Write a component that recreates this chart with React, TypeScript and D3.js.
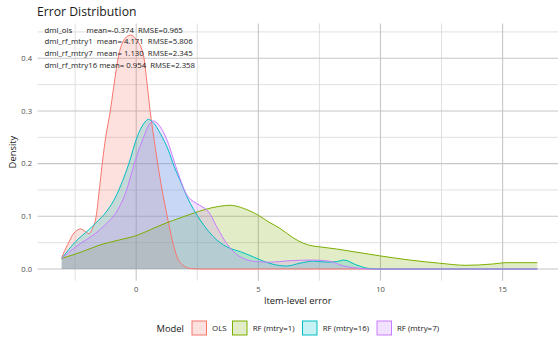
import React, { useEffect } from "react";
import * as d3 from "d3";

// Kernel density estimates of item-level error, sampled as [error, density]
const olsDensity: [number, number][] = [
  [-3.05, 0.022], [-2.8, 0.047], [-2.55, 0.068], [-2.27, 0.076], [-2.08, 0.071],
  [-1.93, 0.067], [-1.8, 0.076], [-1.64, 0.1], [-1.51, 0.15], [-1.39, 0.2],
  [-1.25, 0.25], [-1.06, 0.3], [-0.92, 0.346], [-0.7, 0.409], [-0.45, 0.438],
  [-0.23, 0.444], [0.0, 0.436], [0.3, 0.405], [0.45, 0.35], [0.57, 0.3],
  [0.72, 0.25], [0.88, 0.2], [1.06, 0.15], [1.27, 0.1], [1.5, 0.05],
  [1.67, 0.023], [1.95, 0.006], [2.2, 0.001], [2.6, 0], [16.42, 0],
];

const rfMtry1Density: [number, number][] = [
  [-3.05, 0.02], [-2.2, 0.033], [-1.46, 0.046], [-0.7, 0.055], [0.04, 0.064],
  [0.6, 0.075], [1.26, 0.088], [1.8, 0.097], [2.22, 0.104], [2.9, 0.114],
  [3.4, 0.119], [3.85, 0.121], [4.4, 0.115], [5.0, 0.102], [5.4, 0.09],
  [5.89, 0.077], [6.4, 0.06], [6.84, 0.049], [7.2, 0.044], [7.52, 0.042],
  [8.2, 0.038], [8.88, 0.033], [9.97, 0.025], [11.2, 0.017], [12.42, 0.011],
  [13.5, 0.007], [14.6, 0.0095], [15.14, 0.012], [16.42, 0.012],
];

const rfMtry16Density: [number, number][] = [
  [-3.05, 0.02], [-2.48, 0.052], [-1.93, 0.075], [-1.66, 0.087], [-1.2, 0.11],
  [-0.84, 0.137], [-0.55, 0.168], [-0.3, 0.2], [0.04, 0.251], [0.31, 0.276],
  [0.5, 0.284], [0.7, 0.278], [0.99, 0.257], [1.33, 0.224], [1.55, 0.195],
  [1.8, 0.168], [2.08, 0.137], [2.62, 0.093], [3.3, 0.055], [3.85, 0.039],
  [4.26, 0.033], [4.8, 0.023], [5.2, 0.015], [5.6, 0.009], [6.16, 0.0057],
  [6.7, 0.011], [7.25, 0.015], [7.8, 0.013], [8.2, 0.014], [8.5, 0.017],
  [9.0, 0.008], [9.4, 0.002], [9.8, 0], [16.42, 0],
];

const rfMtry7Density: [number, number][] = [
  [-3.05, 0.02], [-2.48, 0.042], [-1.66, 0.068], [-1.2, 0.087], [-0.84, 0.106],
  [-0.44, 0.144], [-0.03, 0.207], [0.31, 0.251], [0.55, 0.276], [0.7, 0.281],
  [0.9, 0.275], [1.26, 0.245], [1.67, 0.188], [2.08, 0.14], [2.35, 0.128],
  [2.6, 0.121], [2.97, 0.108], [3.3, 0.08], [3.71, 0.048], [4.26, 0.023],
  [4.94, 0.014], [5.5, 0.013], [6.2, 0.0155], [7.25, 0.017], [7.9, 0.015],
  [8.47, 0.006], [9.0, 0.002], [9.5, 0], [16.42, 0],
];

const modelNames = ["OLS", "RF (mtry=1)", "RF (mtry=16)", "RF (mtry=7)"];
const modelColors = ["#F8766D", "#7CAE00", "#00BFC4", "#C77CFF"];
const modelSeries = [olsDensity, rfMtry1Density, rfMtry16Density, rfMtry7Density];

const summaryLines = [
  "dml_ols       mean=-0.374  RMSE=0.965",
  "dml_rf_mtry1  mean= 4.171  RMSE=5.806",
  "dml_rf_mtry7  mean= 1.130  RMSE=2.345",
  "dml_rf_mtry16 mean= 0.954  RMSE=2.358",
];

const xMajor = [0, 5, 10, 15];
const xMinor = [-2.5, 2.5, 7.5, 12.5];
const yMajor = [0, 0.1, 0.2, 0.3, 0.4];
const yMinor = [0.05, 0.15, 0.25, 0.35, 0.45];

const W = 558;
const H = 337;
const FONT = "'Open Sans', 'DejaVu Sans', sans-serif";

export default function App() {
  useEffect(() => {
    document.body.style.margin = "0";
  }, []);

  const panel = { left: 37.5, right: 558, top: 23.4, bottom: 280.7 };
  const x = d3.scaleLinear().domain([-4.02, 17.3]).range([38, 558.8]);
  const y = d3.scaleLinear().domain([-0.0222, 0.4662]).range([panel.bottom, panel.top]);

  const area = d3
    .area<[number, number]>()
    .x((d) => x(d[0]))
    .y0(y(0))
    .y1((d) => y(d[1]))
    .curve(d3.curveMonotoneX);
  const line = d3
    .line<[number, number]>()
    .x((d) => x(d[0]))
    .y((d) => y(d[1]))
    .curve(d3.curveMonotoneX);

  const legendItems = [
    { keyX: 192, textX: 212 },
    { keyX: 232.5, textX: 252.7 },
    { keyX: 302.5, textX: 322.7 },
    { keyX: 377, textX: 397 },
  ];

  return (
    <svg
      width={W}
      height={H}
      style={{ position: "fixed", left: 0, top: 0, background: "#fff", fontFamily: FONT }}
    >
      <rect width={W} height={H} fill="#ffffff" />
      {/* grid */}
      <g>
        {yMinor.map((v) => (
          <line key={"ym" + v} x1={panel.left} x2={panel.right} y1={y(v)} y2={y(v)} stroke="#dcdcdc" strokeWidth={0.9} />
        ))}
        {xMinor.map((v) => (
          <line key={"xm" + v} x1={x(v)} x2={x(v)} y1={panel.top} y2={panel.bottom} stroke="#dcdcdc" strokeWidth={0.9} />
        ))}
        {yMajor.map((v) => (
          <line key={"yM" + v} x1={panel.left} x2={panel.right} y1={y(v)} y2={y(v)} stroke="#c6c6c6" strokeWidth={1.1} />
        ))}
        {xMajor.map((v) => (
          <line key={"xM" + v} x1={x(v)} x2={x(v)} y1={panel.top} y2={panel.bottom} stroke="#c6c6c6" strokeWidth={1.1} />
        ))}
      </g>
      {/* density areas */}
      <g>
        {modelSeries.map((s, i) => (
          <path key={"a" + i} d={area(s) || ""} fill={modelColors[i]} fillOpacity={0.22} stroke="none" />
        ))}
        {modelSeries.map((s, i) => (
          <path key={"l" + i} d={line(s) || ""} fill="none" stroke={modelColors[i]} strokeWidth={1} />
        ))}
      </g>
      {/* summary annotation */}
      <g fontSize={7.8} fill="#1a1a1a">
        {summaryLines.map((t, i) => (
          <text key={t} x={44.5} y={32.5 + i * 11.7} style={{ whiteSpace: "pre" }}>
            {t}
          </text>
        ))}
      </g>
      {/* axes labels */}
      <g fontSize={7.6} fill="#4d4d4d">
        {yMajor.map((v) => (
          <text key={"yt" + v} x={32} y={y(v)} dy="0.35em" textAnchor="end">
            {d3.format(".1f")(v)}
          </text>
        ))}
        {xMajor.map((v) => (
          <text key={"xt" + v} x={x(v)} y={289} dy="0.35em" textAnchor="middle">
            {v}
          </text>
        ))}
      </g>
      <text x={(panel.left + panel.right) / 2} y={303.5} textAnchor="middle" fontSize={9.4} fill="#1a1a1a">
        Item-level error
      </text>
      <text
        transform={`translate(16,${(panel.top + panel.bottom) / 2}) rotate(-90)`}
        textAnchor="middle"
        fontSize={9.4}
        fill="#1a1a1a"
      >
        Density
      </text>
      <text x={37} y={15.5} fontSize={12.2} fill="#1a1a1a">
        Error Distribution
      </text>
      {/* legend */}
      <g>
        <text x={156.5} y={331.5} fontSize={9.4} fill="#1a1a1a">
          Model
        </text>
        {modelNames.map((name, i) => (
          <g key={name}>
            <rect
              x={legendItems[i].keyX}
              y={321}
              width={14.5}
              height={14}
              fill={modelColors[i]}
              fillOpacity={0.22}
              stroke={modelColors[i]}
              strokeWidth={1}
            />
            <text x={legendItems[i].textX} y={331} fontSize={7.9} fill="#1a1a1a">
              {name}
            </text>
          </g>
        ))}
      </g>
    </svg>
  );
}
